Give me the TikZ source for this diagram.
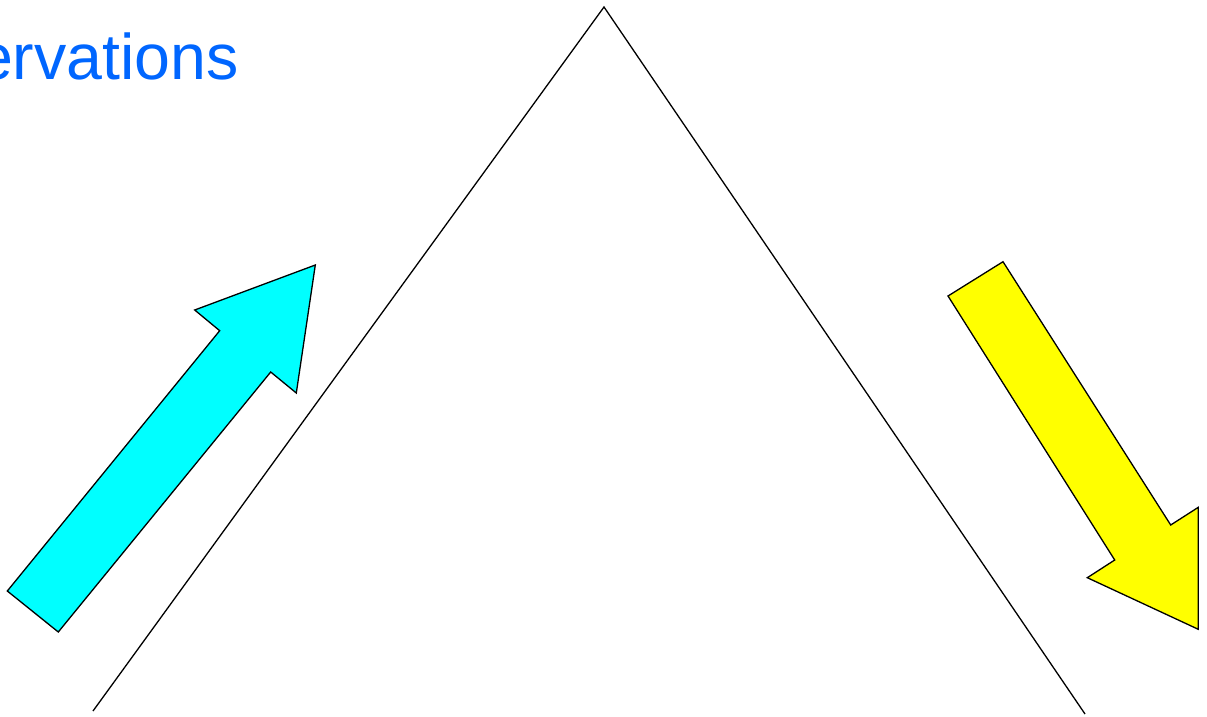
\documentclass[tikz,border=0pt]{standalone}
\usepackage{fontspec}
\setmainfont{Liberation Sans}
\usepackage{tikz}
\usetikzlibrary{calc}
\definecolor{titleblue}{RGB}{0,102,255}
\definecolor{upcyan}{RGB}{0,255,255}
\definecolor{downyellow}{RGB}{255,255,0}

\begin{document}
\begin{tikzpicture}
        [
            x=1pt, y=-1pt,
            slope/.style={draw=black, line width=1.3pt},
            blockarrow/.style={draw=black, line width=1.3pt, line join=miter},
            heading/.style={text=titleblue, inner sep=0pt, font=\fontsize{64.5}{70}\selectfont}
        ]
        \useasboundingbox (0,0) rectangle (1207,717);

        \node[heading, anchor=base east] (title) at (239,79) {ervations};

        % the two slopes
        \coordinate (foot-l) at (93,711);
        \coordinate (peak)   at (604,7);
        \coordinate (foot-r) at (1085,714);
        \draw[slope] (foot-l) -- (peak) -- (foot-r);

        % going up
        \draw[blockarrow, fill=upcyan]
            (7.3,591) -- (219.7,330.7) -- (194.7,310) -- (315.3,265)
            -- (296.3,393) -- (270.7,372) -- (58.3,632) -- cycle;

        % coming down
        \draw[blockarrow, fill=downyellow]
            (1003,261.7) -- (1170.7,525) -- (1198.3,507.3) -- (1198.3,629.3)
            -- (1087.3,577.7) -- (1114.7,560) -- (948,296) -- cycle;

    \end{tikzpicture}
\end{document}
